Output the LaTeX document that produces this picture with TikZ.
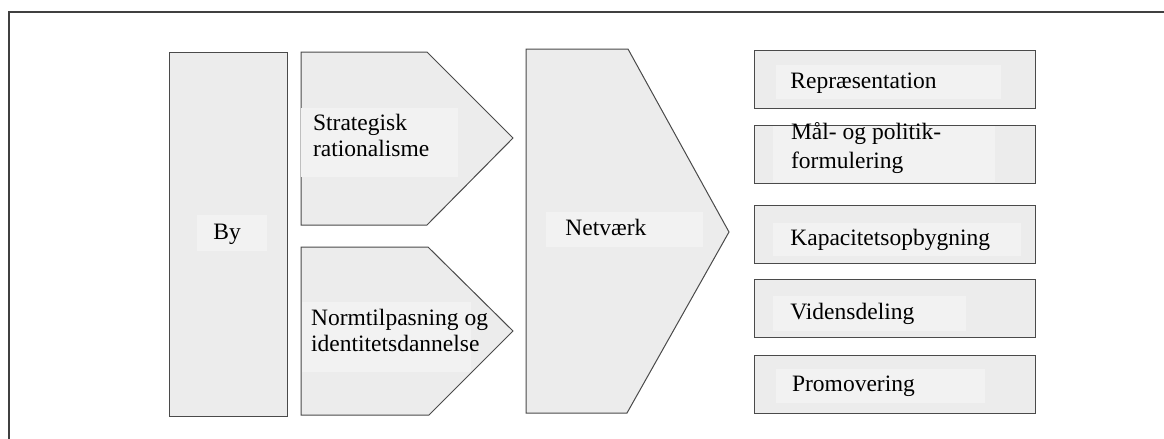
\documentclass[tikz,border=0pt]{standalone}
\usepackage{fontspec}
\setmainfont{Liberation Serif}

\definecolor{boxfill}{HTML}{ECECEC}
\definecolor{boxline}{HTML}{4A4A4A}
\definecolor{labelfill}{HTML}{F2F2F2}
\definecolor{framecol}{HTML}{404040}

\tikzset{
  block/.style={draw=boxline, fill=boxfill, line width=0.5pt, inner sep=0pt},
  labelbg/.style={fill=labelfill},
  lbl/.style={anchor=base west, inner sep=0pt, font=\fontsize{11.75}{13}\selectfont},
  frameline/.style={draw=framecol, line width=1pt}
}

\begin{document}
\begin{tikzpicture}[x=0.5pt, y=-0.5pt]
\useasboundingbox (0,0) rectangle (1164,439);

  % outer frame (top and left only)
  \draw[frameline] (1164,12) -- (8.5,12) -- (8.5,439);

  % city column
  \node[block, minimum width=59pt, minimum height=181.7pt] (city) at (228,234.4) {};

  % the two motives
  \draw[block] (301,52) -- (427,52) -- (513,138) -- (427,225) -- (301,225) -- cycle;
  \draw[block] (301,247) -- (428,247) -- (513,331) -- (429,415) -- (301,415) -- cycle;

  % network arrow
  \draw[block] (526,49) -- (628,49) -- (729,232) -- (627,413) -- (526,413) -- cycle;

  % outcomes
  \foreach \yc/\nm in {79/repr, 154/goals, 234.5/capacity, 308.3/knowledge, 384/promo}
    \node[block, minimum width=140.5pt, minimum height=29pt] (\nm) at (894.5,\yc) {};

  % light patches behind the texts
  \fill[labelbg] (197,215) rectangle (267,251);
  \fill[labelbg] (301.2,108) rectangle (458,176.7);
  \fill[labelbg] (301.7,301.7) rectangle (471,371.7);
  \fill[labelbg] (546,212) rectangle (702.7,246.7);
  \fill[labelbg] (776,65) rectangle (1001,99.3);
  \fill[labelbg] (773,126) rectangle (995,182);
  \fill[labelbg] (773,222.7) rectangle (1021,256);
  \fill[labelbg] (773,296) rectangle (966,331);
  \fill[labelbg] (776,369.3) rectangle (985,403.3);

  % texts
  \node[lbl] (citytext) at (213,239) {By};
  \node[lbl] (strattext) at (312.7,130.7) {\parbox[t]{80pt}{Strategisk\\rationalisme}};
  \node[lbl] (normtext) at (310.7,325) {\parbox[t]{90pt}{Normtilpasning og\\identitetsdannelse}};
  \node[lbl] (nettext) at (565,235) {Netværk};
  \node[lbl] (reprtext) at (790,88.3) {Repræsentation};
  \node[lbl] (goaltext) at (790.7,139.8) {\parbox[t]{90pt}{Mål- og politik-\\[1.5pt]formulering}};
  \node[lbl] (captext) at (790,245) {Kapacitetsopbygning};
  \node[lbl] (knowtext) at (790,319.3) {Vidensdeling};
  \node[lbl] (promotext) at (791.7,391.7) {Promovering};

\end{tikzpicture}
\end{document}
